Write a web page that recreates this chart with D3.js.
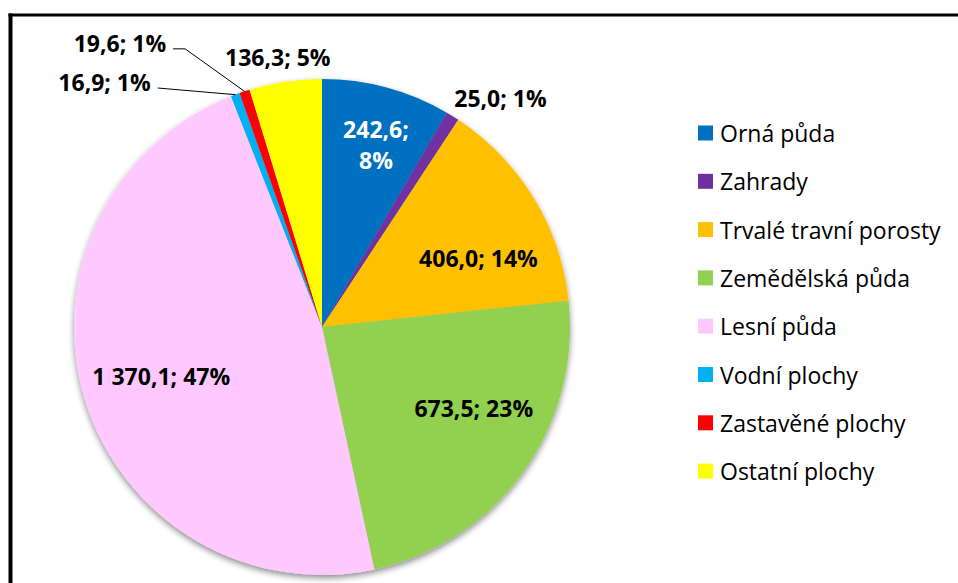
<!DOCTYPE html>
<html>
<head>
<meta charset="utf-8">
<script src="https://cdn.jsdelivr.net/npm/d3@7"></script>
<style>
  body { margin: 0; background: #fff; }
  svg text { font-family: 'Open Sans', 'Noto Sans', sans-serif; }
</style>
</head>
<body>
<div id="chart"></div>
<script>
// land use categories (values in ha)
var categories = ['Orná půda', 'Zahrady', 'Trvalé travní porosty', 'Zemědělská půda',
  'Lesní půda', 'Vodní plochy', 'Zastavěné plochy', 'Ostatní plochy']
var values = [242.6, 25.0, 406.0, 673.5, 1370.1, 16.9, 19.6, 136.3]
var colors = ['#0070C0', '#7030A0', '#FFC000', '#92D050', '#FFC9FF', '#00B0F0', '#FF0000', '#FFFF00']
var labelColors = ['#fff', '#000', '#000', '#000', '#000', '#000', '#000', '#000']

// label placement: radius from centre, angle shift (deg) from slice middle,
// leader = elbow point [radius, angle deg] for the tiny slices
var labelLayout = [
  { r: 191, da: 1.3, split: true },
  { r: 290, da: 6.2 },
  { r: 171, da: 7.6 },
  { r: 172, da: -7.8 },
  { r: 168, da: 0 },
  { leader: [290, 325.5], hook: 0 },
  { leader: [310, 333.8], hook: 12 },
  { r: 274, da: -0.8 }
]

var W = 958
var H = 583
var CX = 322
var CY = 327
var R = 248

var cs = d3.formatLocale({ decimal: ',', thousands: '\u00a0', grouping: [3], currency: ['', ' Kč'] })
var fmtVal = cs.format(',.1f')
var total = d3.sum(values)

var svg = d3.select('#chart').append('svg')
  .attr('width', W)
  .attr('height', H)

var defs = svg.append('defs')
var shadow = defs.append('filter').attr('id', 'shadow')
  .attr('x', '-10%').attr('y', '-10%').attr('width', '120%').attr('height', '120%')
shadow.append('feDropShadow')
  .attr('dx', 0).attr('dy', 3).attr('stdDeviation', 3)
  .attr('flood-color', '#000').attr('flood-opacity', 0.45)

// frame
svg.append('line').attr('x1', 10.5).attr('x2', 10.5).attr('y1', 13.5).attr('y2', H)
  .attr('stroke', '#000').attr('stroke-width', 4)
svg.append('line').attr('x1', 8.5).attr('x2', W).attr('y1', 15).attr('y2', 15)
  .attr('stroke', '#000').attr('stroke-width', 3)

var pie = d3.pie().sort(null).value(function (d) { return d })
var arcs = pie(values)
var arc = d3.arc().innerRadius(0).outerRadius(R)

var g = svg.append('g').attr('transform', 'translate(' + CX + ',' + CY + ')')

g.append('g').attr('filter', 'url(#shadow)')
  .selectAll('path').data(arcs).enter().append('path')
  .attr('d', arc)
  .attr('fill', function (d, i) { return colors[i] })

function polar (r, deg) {
  var a = deg * Math.PI / 180
  return [r * Math.sin(a), -r * Math.cos(a)]
}

function mid (d) {
  return (d.startAngle + d.endAngle) / 2 * 180 / Math.PI
}

function labelText (i) {
  return fmtVal(values[i]) + '; ' + Math.round(values[i] / total * 100) + '%'
}

var labels = g.append('g')
  .attr('font-size', 23)
  .attr('font-weight', 'bold')

arcs.forEach(function (d, i) {
  var lay = labelLayout[i]
  if (lay.leader) {
    var edge = polar(R, mid(d))
    var elbow = polar(lay.leader[0], lay.leader[1])
    var end = [elbow[0] - lay.hook, elbow[1]]
    labels.append('polyline')
      .attr('points', [edge, elbow, end].map(function (p) { return p.join(',') }).join(' '))
      .attr('fill', 'none')
      .attr('stroke', '#000')
      .attr('stroke-width', 1)
    labels.append('text')
      .attr('x', end[0] - 7)
      .attr('y', end[1] - 6)
      .attr('text-anchor', 'end')
      .attr('dominant-baseline', 'central')
      .attr('fill', labelColors[i])
      .text(labelText(i))
    return
  }
  var p = polar(lay.r, mid(d) + lay.da)
  var t = labels.append('text')
    .attr('x', p[0])
    .attr('y', p[1])
    .attr('text-anchor', 'middle')
    .attr('dominant-baseline', 'central')
    .attr('fill', labelColors[i])
  if (lay.split) {
    var parts = labelText(i).split(' ')
    t.attr('y', p[1] - 15)
    parts.forEach(function (s, k) {
      t.append('tspan').attr('x', p[0]).attr('dy', k ? 31 : 0).text(s)
    })
  } else {
    t.text(labelText(i))
  }
})

// legend
var legend = svg.append('g').attr('transform', 'translate(698,133)')
var rows = legend.selectAll('g').data(categories).enter().append('g')
  .attr('transform', function (d, i) { return 'translate(0,' + (i * 48.3) + ')' })
rows.append('rect')
  .attr('x', 0).attr('y', -7.5).attr('width', 15).attr('height', 15)
  .attr('fill', function (d, i) { return colors[i] })
rows.append('text')
  .attr('x', 22)
  .attr('y', 0)
  .attr('dominant-baseline', 'central')
  .attr('font-size', 23)
  .attr('fill', '#000')
  .text(function (d) { return d })
</script>
</body>
</html>
